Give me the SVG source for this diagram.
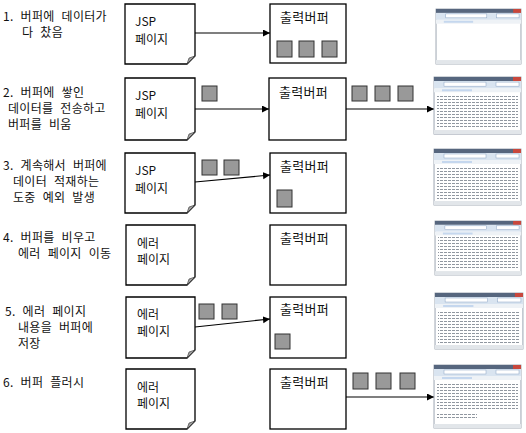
<svg xmlns="http://www.w3.org/2000/svg" width="526" height="433" viewBox="0 0 526 433">
<style>
text{font-family:"Noto Sans CJK KR","Noto Sans",sans-serif;font-size:12px;fill:#111}
.lbl{font-size:12px;word-spacing:4px;letter-spacing:0.3px}
.buf{font-size:13px;letter-spacing:0.3px}
.page{fill:#fff;stroke:#000;stroke-width:1.3}
.fold{fill:#a0a0a0;stroke:#333;stroke-width:0.6}
.box{fill:#fff;stroke:#000;stroke-width:1.3}
.sq{fill:#999;stroke:#333;stroke-width:1}
.conn{stroke:#000;stroke-width:1.2;fill:none;marker-end:url(#ah)}
.frame{fill:#f2f4f7;stroke:#8c96a3;stroke-width:0.8}
.title{fill:#56667e}
.close{fill:#c9473c}
.tool{fill:#d9e4f0}
.addr{fill:#fff;stroke:#8aa3c4;stroke-width:0.5}
.tab{fill:#eef2f6}
.hl{fill:#c5d7ee}
.content{fill:#fff}
.status{fill:#e2e6ea}
</style>
<defs>
<marker id="ah" markerUnits="userSpaceOnUse" markerWidth="8" markerHeight="8" refX="7" refY="3.5" orient="auto">
<path d="M0,0 L7,3.5 L0,7 Z" fill="#000"/>
</marker>
<pattern id="txt" patternUnits="userSpaceOnUse" width="4" height="3">
<rect x="0" y="0" width="3" height="1" fill="#9097a0"/>
</pattern>
<g id="brw">
<rect class="frame" x="0" y="0" width="87" height="56"/>
<rect class="title" x="0" y="0" width="87" height="4"/>
<rect class="close" x="79" y="0" width="8" height="4"/>
<rect class="tool" x="0" y="4" width="87" height="7"/>
<rect class="addr" x="10" y="5" width="42" height="4"/>
<rect class="addr" x="62" y="5" width="23" height="4"/>
<rect class="tab" x="0" y="11" width="87" height="4"/>
<rect class="hl" x="8" y="12" width="30" height="2"/>
<rect class="content" x="1" y="15" width="85" height="37"/>
<rect class="status" x="0" y="52" width="87" height="4"/>
</g>
</defs>
<rect width="526" height="433" fill="#fff"/>

<g id="connectors">
<line class="conn" x1="195" y1="33" x2="270" y2="33"/>
<line class="conn" x1="195" y1="109" x2="269" y2="109"/>
<line class="conn" x1="346" y1="109" x2="434" y2="109"/>
<line class="conn" x1="195" y1="182" x2="270" y2="175"/>
<line class="conn" x1="195" y1="327" x2="270" y2="319"/>
<line class="conn" x1="346" y1="397" x2="434" y2="397"/>
</g>

<!-- Row 1 -->
<g id="label1">
<text class="lbl" x="3" y="21">1. 버퍼에 데이터가</text>
<text class="lbl" x="22" y="37">다 찼음</text>
</g>
<g id="jsp1">
<path class="page" d="M125,4 H195 V56 L187,64 H125 Z"/>
<path class="fold" d="M195,56 L187,64 L189,58 Z"/>
<text x="135" y="26">JSP</text>
<text x="135" y="44">페이지</text>
</g>
<g id="buffer1">
<rect class="box" x="270" y="4" width="76" height="59"/>
<text class="buf" x="280" y="22">출력버퍼</text>
<rect class="sq" x="277" y="41" width="15" height="16"/>
<rect class="sq" x="299" y="41" width="15" height="16"/>
<rect class="sq" x="322" y="41" width="15" height="16"/>
</g>
<g id="browser1" transform="translate(436,9) scale(0.977,0.982)">
<use href="#brw"/>
</g>

<!-- Row 2 -->
<g id="label2">
<text class="lbl" x="3" y="97">2. 버퍼에 쌓인</text>
<text class="lbl" x="8" y="113">데이터를 전송하고</text>
<text class="lbl" x="8" y="129">버퍼를 비움</text>
</g>
<g id="jsp2">
<path class="page" d="M125,78 H195 V132 L187,140 H125 Z"/>
<path class="fold" d="M195,132 L187,140 L189,134 Z"/>
<text x="135" y="100">JSP</text>
<text x="135" y="118">페이지</text>
<rect class="sq" x="202" y="86" width="15" height="15"/>
</g>
<g id="buffer2">
<rect class="box" x="269" y="78" width="77" height="62"/>
<text class="buf" x="279" y="97">출력버퍼</text>
<rect class="sq" x="352" y="86" width="15" height="15"/>
<rect class="sq" x="375" y="86" width="15" height="15"/>
<rect class="sq" x="398" y="86" width="15" height="15"/>
</g>
<g id="browser2">
<use href="#brw" transform="translate(434,77) scale(1,1.02)"/>
<rect x="437" y="94" width="81" height="35" fill="url(#txt)"/>
</g>

<!-- Row 3 -->
<g id="label3">
<text class="lbl" x="3" y="170">3. 계속해서 버퍼에</text>
<text class="lbl" x="13" y="186">데이터 적재하는</text>
<text class="lbl" x="13" y="202">도중 예외 발생</text>
</g>
<g id="jsp3">
<path class="page" d="M125,153 H195 V205 L187,213 H125 Z"/>
<path class="fold" d="M195,205 L187,213 L189,207 Z"/>
<text x="135" y="175">JSP</text>
<text x="135" y="193">페이지</text>
<rect class="sq" x="202" y="160" width="15" height="15"/>
<rect class="sq" x="224" y="160" width="15" height="15"/>
</g>
<g id="buffer3">
<rect class="box" x="270" y="153" width="76" height="60"/>
<text class="buf" x="280" y="171">출력버퍼</text>
<rect class="sq" x="277" y="190" width="15" height="17"/>
</g>
<g id="browser3">
<use href="#brw" transform="translate(434,149)"/>
<rect x="437" y="166" width="81" height="34" fill="url(#txt)"/>
</g>

<!-- Row 4 -->
<g id="label4">
<text class="lbl" x="3" y="242">4. 버퍼를 비우고</text>
<text class="lbl" x="18" y="258">에러 페이지 이동</text>
</g>
<g id="err4">
<path class="page" d="M126,225 H195 V277 L187,285 H126 Z"/>
<path class="fold" d="M195,277 L187,285 L189,279 Z"/>
<text x="137" y="248">에러</text>
<text x="137" y="264">페이지</text>
</g>
<g id="buffer4">
<rect class="box" x="270" y="225" width="76" height="60"/>
<text class="buf" x="280" y="243">출력버퍼</text>
</g>
<g id="browser4">
<use href="#brw" transform="translate(435,221) scale(0.989,0.964)"/>
<rect x="438" y="237" width="80" height="32" fill="url(#txt)"/>
</g>

<!-- Row 5 -->
<g id="label5">
<text class="lbl" x="5" y="316">5. 에러 페이지</text>
<text class="lbl" x="18" y="332">내용을 버퍼에</text>
<text class="lbl" x="18" y="348">저장</text>
</g>
<g id="err5">
<path class="page" d="M126,297 H195 V350 L187,358 H126 Z"/>
<path class="fold" d="M195,350 L187,358 L189,352 Z"/>
<text x="137" y="319">에러</text>
<text x="137" y="336">페이지</text>
<rect class="sq" x="199" y="304" width="15" height="15"/>
<rect class="sq" x="222" y="304" width="15" height="15"/>
</g>
<g id="buffer5">
<rect class="box" x="270" y="297" width="76" height="61"/>
<text class="buf" x="280" y="314">출력버퍼</text>
<rect class="sq" x="275" y="334" width="15" height="15"/>
</g>
<g id="browser5">
<use href="#brw" transform="translate(435,293) scale(1.011,1)"/>
<rect x="438" y="310" width="82" height="34" fill="url(#txt)"/>
</g>

<!-- Row 6 -->
<g id="label6">
<text class="lbl" x="3" y="387">6. 버퍼 플러시</text>
</g>
<g id="err6">
<path class="page" d="M126,369 H195 V421 L187,429 H126 Z"/>
<path class="fold" d="M195,421 L187,429 L189,423 Z"/>
<text x="137" y="392">에러</text>
<text x="137" y="408">페이지</text>
</g>
<g id="buffer6">
<rect class="box" x="270" y="369" width="76" height="60"/>
<text class="buf" x="280" y="387">출력버퍼</text>
<rect class="sq" x="353" y="373" width="15" height="16"/>
<rect class="sq" x="376" y="373" width="15" height="16"/>
<rect class="sq" x="400" y="373" width="15" height="16"/>
</g>
<g id="browser6">
<rect class="frame" x="434" y="365" width="87" height="63"/>
<rect class="title" x="434" y="365" width="87" height="4"/>
<rect class="close" x="513" y="365" width="8" height="4"/>
<rect class="tool" x="434" y="369" width="87" height="7"/>
<rect class="addr" x="444" y="370" width="42" height="4"/>
<rect class="addr" x="496" y="370" width="23" height="4"/>
<rect class="tab" x="434" y="376" width="87" height="4"/>
<rect class="hl" x="442" y="377" width="30" height="2"/>
<rect class="content" x="435" y="380" width="85" height="44"/>
<rect x="437" y="382" width="81" height="28" fill="url(#txt)"/>
<rect x="437" y="414" width="40" height="6" fill="url(#txt)"/>
<rect class="status" x="434" y="424" width="87" height="4"/>
</g>
</svg>
